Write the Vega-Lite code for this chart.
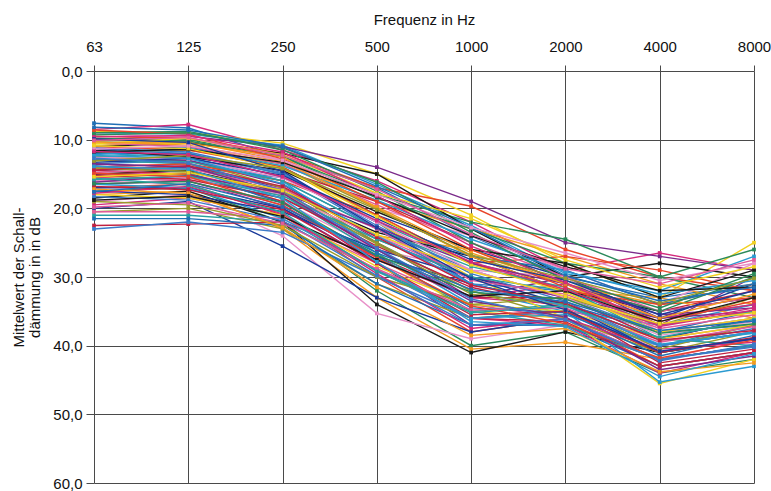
{
  "$schema": "https://vega.github.io/schema/vega-lite/v6.json",
  "width": 660,
  "height": 412,
  "autosize": "none",
  "padding": {"left": 94, "top": 71, "right": 17, "bottom": 8},
  "background": "white",
  "config": {
    "font": "Liberation Sans",
    "view": {"stroke": null},
    "axis": {"labelFontSize": 15, "titleFontSize": 15, "titleFontWeight": "normal", "labelColor": "#111", "titleColor": "#111", "gridColor": "#4a4a4a", "gridOpacity": 1, "gridWidth": 1, "tickColor": "#4a4a4a", "domain": false}
  },
  "data": {"values": [
{"s":1,"f":63,"v":7.6},{"s":1,"f":125,"v":8.3},{"s":1,"f":250,"v":12.5},{"s":1,"f":500,"v":17},{"s":1,"f":1000,"v":24},{"s":1,"f":2000,"v":30},{"s":1,"f":4000,"v":33},{"s":1,"f":8000,"v":31},
{"s":2,"f":63,"v":8.5},{"s":2,"f":125,"v":7.8},{"s":2,"f":250,"v":11.5},{"s":2,"f":500,"v":16},{"s":2,"f":1000,"v":22},{"s":2,"f":2000,"v":29},{"s":2,"f":4000,"v":26.5},{"s":2,"f":8000,"v":29},
{"s":3,"f":63,"v":8.8},{"s":3,"f":125,"v":9},{"s":3,"f":250,"v":10.5},{"s":3,"f":500,"v":15},{"s":3,"f":1000,"v":21},{"s":3,"f":2000,"v":28},{"s":3,"f":4000,"v":33},{"s":3,"f":8000,"v":25},
{"s":4,"f":63,"v":9},{"s":4,"f":125,"v":9.2},{"s":4,"f":250,"v":10.8},{"s":4,"f":500,"v":16.5},{"s":4,"f":1000,"v":22.5},{"s":4,"f":2000,"v":29.5},{"s":4,"f":4000,"v":32},{"s":4,"f":8000,"v":27},
{"s":5,"f":63,"v":10},{"s":5,"f":125,"v":9.5},{"s":5,"f":250,"v":11},{"s":5,"f":500,"v":14},{"s":5,"f":1000,"v":19},{"s":5,"f":2000,"v":25},{"s":5,"f":4000,"v":27},{"s":5,"f":8000,"v":29},
{"s":6,"f":63,"v":9.5},{"s":6,"f":125,"v":9.8},{"s":6,"f":250,"v":12},{"s":6,"f":500,"v":17},{"s":6,"f":1000,"v":19.7},{"s":6,"f":2000,"v":26},{"s":6,"f":4000,"v":30},{"s":6,"f":8000,"v":32},
{"s":7,"f":63,"v":10.2},{"s":7,"f":125,"v":10},{"s":7,"f":250,"v":12.5},{"s":7,"f":500,"v":18},{"s":7,"f":1000,"v":22},{"s":7,"f":2000,"v":24.5},{"s":7,"f":4000,"v":30},{"s":7,"f":8000,"v":33},
{"s":8,"f":63,"v":10.5},{"s":8,"f":125,"v":10.3},{"s":8,"f":250,"v":13},{"s":8,"f":500,"v":19},{"s":8,"f":1000,"v":23},{"s":8,"f":2000,"v":27},{"s":8,"f":4000,"v":31},{"s":8,"f":8000,"v":34},
{"s":9,"f":63,"v":11},{"s":9,"f":125,"v":10.5},{"s":9,"f":250,"v":12},{"s":9,"f":500,"v":15},{"s":9,"f":1000,"v":23},{"s":9,"f":2000,"v":30},{"s":9,"f":4000,"v":28},{"s":9,"f":8000,"v":30},
{"s":10,"f":63,"v":9.2},{"s":10,"f":125,"v":9.6},{"s":10,"f":250,"v":13},{"s":10,"f":500,"v":20},{"s":10,"f":1000,"v":24},{"s":10,"f":2000,"v":29},{"s":10,"f":4000,"v":34},{"s":10,"f":8000,"v":28},
{"s":11,"f":63,"v":11.5},{"s":11,"f":125,"v":11},{"s":11,"f":250,"v":14},{"s":11,"f":500,"v":21},{"s":11,"f":1000,"v":26},{"s":11,"f":2000,"v":30},{"s":11,"f":4000,"v":36},{"s":11,"f":8000,"v":31},
{"s":12,"f":63,"v":12},{"s":12,"f":125,"v":11.5},{"s":12,"f":250,"v":13.5},{"s":12,"f":500,"v":20},{"s":12,"f":1000,"v":27},{"s":12,"f":2000,"v":31},{"s":12,"f":4000,"v":37},{"s":12,"f":8000,"v":33},
{"s":13,"f":63,"v":12.5},{"s":13,"f":125,"v":12},{"s":13,"f":250,"v":15},{"s":13,"f":500,"v":22},{"s":13,"f":1000,"v":28},{"s":13,"f":2000,"v":32},{"s":13,"f":4000,"v":36},{"s":13,"f":8000,"v":34},
{"s":14,"f":63,"v":13},{"s":14,"f":125,"v":12.5},{"s":14,"f":250,"v":14.5},{"s":14,"f":500,"v":19},{"s":14,"f":1000,"v":25},{"s":14,"f":2000,"v":31},{"s":14,"f":4000,"v":35},{"s":14,"f":8000,"v":32},
{"s":15,"f":63,"v":13.5},{"s":15,"f":125,"v":13},{"s":15,"f":250,"v":16},{"s":15,"f":500,"v":23},{"s":15,"f":1000,"v":29},{"s":15,"f":2000,"v":33},{"s":15,"f":4000,"v":38},{"s":15,"f":8000,"v":36},
{"s":16,"f":63,"v":14},{"s":16,"f":125,"v":13.5},{"s":16,"f":250,"v":17},{"s":16,"f":500,"v":24},{"s":16,"f":1000,"v":30},{"s":16,"f":2000,"v":33},{"s":16,"f":4000,"v":39},{"s":16,"f":8000,"v":37},
{"s":17,"f":63,"v":14.5},{"s":17,"f":125,"v":14},{"s":17,"f":250,"v":15.5},{"s":17,"f":500,"v":22},{"s":17,"f":1000,"v":31},{"s":17,"f":2000,"v":34},{"s":17,"f":4000,"v":38},{"s":17,"f":8000,"v":35},
{"s":18,"f":63,"v":15},{"s":18,"f":125,"v":15},{"s":18,"f":250,"v":18},{"s":18,"f":500,"v":26},{"s":18,"f":1000,"v":33},{"s":18,"f":2000,"v":34},{"s":18,"f":4000,"v":40},{"s":18,"f":8000,"v":38},
{"s":19,"f":63,"v":15.5},{"s":19,"f":125,"v":15},{"s":19,"f":250,"v":19},{"s":19,"f":500,"v":27},{"s":19,"f":1000,"v":35},{"s":19,"f":2000,"v":36},{"s":19,"f":4000,"v":41},{"s":19,"f":8000,"v":39},
{"s":20,"f":63,"v":16},{"s":20,"f":125,"v":15.5},{"s":20,"f":250,"v":18.5},{"s":20,"f":500,"v":25},{"s":20,"f":1000,"v":32},{"s":20,"f":2000,"v":35},{"s":20,"f":4000,"v":37},{"s":20,"f":8000,"v":34},
{"s":21,"f":63,"v":16.5},{"s":21,"f":125,"v":16},{"s":21,"f":250,"v":20},{"s":21,"f":500,"v":28},{"s":21,"f":1000,"v":37},{"s":21,"f":2000,"v":37},{"s":21,"f":4000,"v":42},{"s":21,"f":8000,"v":40},
{"s":22,"f":63,"v":17},{"s":22,"f":125,"v":16.5},{"s":22,"f":250,"v":21},{"s":22,"f":500,"v":30},{"s":22,"f":1000,"v":38},{"s":22,"f":2000,"v":36},{"s":22,"f":4000,"v":43},{"s":22,"f":8000,"v":41},
{"s":23,"f":63,"v":17.5},{"s":23,"f":125,"v":17},{"s":23,"f":250,"v":22},{"s":23,"f":500,"v":32},{"s":23,"f":1000,"v":40},{"s":23,"f":2000,"v":38},{"s":23,"f":4000,"v":44},{"s":23,"f":8000,"v":42},
{"s":24,"f":63,"v":18},{"s":24,"f":125,"v":17.5},{"s":24,"f":250,"v":23},{"s":24,"f":500,"v":33},{"s":24,"f":1000,"v":40.5},{"s":24,"f":2000,"v":39.5},{"s":24,"f":4000,"v":42},{"s":24,"f":8000,"v":40},
{"s":25,"f":63,"v":18.5},{"s":25,"f":125,"v":17.5},{"s":25,"f":250,"v":22},{"s":25,"f":500,"v":34},{"s":25,"f":1000,"v":41},{"s":25,"f":2000,"v":38},{"s":25,"f":4000,"v":41},{"s":25,"f":8000,"v":39},
{"s":26,"f":63,"v":19},{"s":26,"f":125,"v":18},{"s":26,"f":250,"v":24},{"s":26,"f":500,"v":35.3},{"s":26,"f":1000,"v":39},{"s":26,"f":2000,"v":37},{"s":26,"f":4000,"v":40},{"s":26,"f":8000,"v":38},
{"s":27,"f":63,"v":20},{"s":27,"f":125,"v":19},{"s":27,"f":250,"v":25.5},{"s":27,"f":500,"v":33},{"s":27,"f":1000,"v":38},{"s":27,"f":2000,"v":36},{"s":27,"f":4000,"v":42},{"s":27,"f":8000,"v":40},
{"s":28,"f":63,"v":20.5},{"s":28,"f":125,"v":20},{"s":28,"f":250,"v":23},{"s":28,"f":500,"v":31},{"s":28,"f":1000,"v":36},{"s":28,"f":2000,"v":35},{"s":28,"f":4000,"v":41},{"s":28,"f":8000,"v":39},
{"s":29,"f":63,"v":21},{"s":29,"f":125,"v":21},{"s":29,"f":250,"v":22},{"s":29,"f":500,"v":29},{"s":29,"f":1000,"v":35},{"s":29,"f":2000,"v":34},{"s":29,"f":4000,"v":40},{"s":29,"f":8000,"v":37},
{"s":30,"f":63,"v":22.5},{"s":30,"f":125,"v":22.3},{"s":30,"f":250,"v":22},{"s":30,"f":500,"v":27},{"s":30,"f":1000,"v":33},{"s":30,"f":2000,"v":33},{"s":30,"f":4000,"v":39},{"s":30,"f":8000,"v":36},
{"s":31,"f":63,"v":23},{"s":31,"f":125,"v":22},{"s":31,"f":250,"v":23.5},{"s":31,"f":500,"v":30},{"s":31,"f":1000,"v":36},{"s":31,"f":2000,"v":35},{"s":31,"f":4000,"v":40},{"s":31,"f":8000,"v":38},
{"s":32,"f":63,"v":20.5},{"s":32,"f":125,"v":20.5},{"s":32,"f":250,"v":21.5},{"s":32,"f":500,"v":28},{"s":32,"f":1000,"v":34},{"s":32,"f":2000,"v":36},{"s":32,"f":4000,"v":42},{"s":32,"f":8000,"v":39},
{"s":33,"f":63,"v":21.5},{"s":33,"f":125,"v":21.5},{"s":33,"f":250,"v":22.5},{"s":33,"f":500,"v":31},{"s":33,"f":1000,"v":37},{"s":33,"f":2000,"v":37},{"s":33,"f":4000,"v":43},{"s":33,"f":8000,"v":41},
{"s":34,"f":63,"v":19.5},{"s":34,"f":125,"v":18.5},{"s":34,"f":250,"v":21},{"s":34,"f":500,"v":29},{"s":34,"f":1000,"v":36},{"s":34,"f":2000,"v":37},{"s":34,"f":4000,"v":44},{"s":34,"f":8000,"v":41},
{"s":35,"f":63,"v":10.8},{"s":35,"f":125,"v":10.5},{"s":35,"f":250,"v":14},{"s":35,"f":500,"v":22},{"s":35,"f":1000,"v":30},{"s":35,"f":2000,"v":36},{"s":35,"f":4000,"v":45.5},{"s":35,"f":8000,"v":42},
{"s":36,"f":63,"v":12},{"s":36,"f":125,"v":12.5},{"s":36,"f":250,"v":16},{"s":36,"f":500,"v":26},{"s":36,"f":1000,"v":34},{"s":36,"f":2000,"v":35},{"s":36,"f":4000,"v":45.3},{"s":36,"f":8000,"v":43},
{"s":37,"f":63,"v":13.5},{"s":37,"f":125,"v":14},{"s":37,"f":250,"v":17},{"s":37,"f":500,"v":25},{"s":37,"f":1000,"v":33},{"s":37,"f":2000,"v":30},{"s":37,"f":4000,"v":37},{"s":37,"f":8000,"v":30},
{"s":38,"f":63,"v":11},{"s":38,"f":125,"v":11.5},{"s":38,"f":250,"v":14},{"s":38,"f":500,"v":21},{"s":38,"f":1000,"v":28},{"s":38,"f":2000,"v":27},{"s":38,"f":4000,"v":29},{"s":38,"f":8000,"v":32},
{"s":39,"f":63,"v":9.8},{"s":39,"f":125,"v":10.2},{"s":39,"f":250,"v":12.5},{"s":39,"f":500,"v":18.5},{"s":39,"f":1000,"v":23},{"s":39,"f":2000,"v":28},{"s":39,"f":4000,"v":30},{"s":39,"f":8000,"v":26},
{"s":40,"f":63,"v":14},{"s":40,"f":125,"v":14.5},{"s":40,"f":250,"v":18},{"s":40,"f":500,"v":24},{"s":40,"f":1000,"v":26},{"s":40,"f":2000,"v":31},{"s":40,"f":4000,"v":34},{"s":40,"f":8000,"v":31},
{"s":41,"f":63,"v":15},{"s":41,"f":125,"v":14.5},{"s":41,"f":250,"v":17.5},{"s":41,"f":500,"v":23.5},{"s":41,"f":1000,"v":27},{"s":41,"f":2000,"v":32},{"s":41,"f":4000,"v":35},{"s":41,"f":8000,"v":33},
{"s":42,"f":63,"v":16},{"s":42,"f":125,"v":16.5},{"s":42,"f":250,"v":19},{"s":42,"f":500,"v":26},{"s":42,"f":1000,"v":29},{"s":42,"f":2000,"v":33},{"s":42,"f":4000,"v":37},{"s":42,"f":8000,"v":35},
{"s":43,"f":63,"v":17},{"s":43,"f":125,"v":17},{"s":43,"f":250,"v":20},{"s":43,"f":500,"v":27},{"s":43,"f":1000,"v":31},{"s":43,"f":2000,"v":34},{"s":43,"f":4000,"v":39},{"s":43,"f":8000,"v":36},
{"s":44,"f":63,"v":12.5},{"s":44,"f":125,"v":13},{"s":44,"f":250,"v":17},{"s":44,"f":500,"v":25},{"s":44,"f":1000,"v":32},{"s":44,"f":2000,"v":36},{"s":44,"f":4000,"v":41},{"s":44,"f":8000,"v":38},
{"s":45,"f":63,"v":13},{"s":45,"f":125,"v":13.5},{"s":45,"f":250,"v":18},{"s":45,"f":500,"v":26.5},{"s":45,"f":1000,"v":35},{"s":45,"f":2000,"v":37},{"s":45,"f":4000,"v":42},{"s":45,"f":8000,"v":40},
{"s":46,"f":63,"v":14.5},{"s":46,"f":125,"v":15},{"s":46,"f":250,"v":19},{"s":46,"f":500,"v":28},{"s":46,"f":1000,"v":36},{"s":46,"f":2000,"v":36.5},{"s":46,"f":4000,"v":43},{"s":46,"f":8000,"v":41},
{"s":47,"f":63,"v":11.5},{"s":47,"f":125,"v":12},{"s":47,"f":250,"v":15},{"s":47,"f":500,"v":23},{"s":47,"f":1000,"v":31},{"s":47,"f":2000,"v":32},{"s":47,"f":4000,"v":38},{"s":47,"f":8000,"v":37},
{"s":48,"f":63,"v":10.5},{"s":48,"f":125,"v":11},{"s":48,"f":250,"v":13.5},{"s":48,"f":500,"v":19.5},{"s":48,"f":1000,"v":25},{"s":48,"f":2000,"v":30},{"s":48,"f":4000,"v":35},{"s":48,"f":8000,"v":33},
{"s":49,"f":63,"v":12},{"s":49,"f":125,"v":12},{"s":49,"f":250,"v":15.5},{"s":49,"f":500,"v":22},{"s":49,"f":1000,"v":27},{"s":49,"f":2000,"v":29},{"s":49,"f":4000,"v":34},{"s":49,"f":8000,"v":31},
{"s":50,"f":63,"v":15.5},{"s":50,"f":125,"v":16},{"s":50,"f":250,"v":19.5},{"s":50,"f":500,"v":27.5},{"s":50,"f":1000,"v":33},{"s":50,"f":2000,"v":31},{"s":50,"f":4000,"v":36},{"s":50,"f":8000,"v":34},
{"s":51,"f":63,"v":18},{"s":51,"f":125,"v":18.5},{"s":51,"f":250,"v":21},{"s":51,"f":500,"v":28.5},{"s":51,"f":1000,"v":34},{"s":51,"f":2000,"v":35},{"s":51,"f":4000,"v":39},{"s":51,"f":8000,"v":37},
{"s":52,"f":63,"v":16.5},{"s":52,"f":125,"v":17},{"s":52,"f":250,"v":21.5},{"s":52,"f":500,"v":29},{"s":52,"f":1000,"v":36},{"s":52,"f":2000,"v":35.5},{"s":52,"f":4000,"v":40},{"s":52,"f":8000,"v":38},
{"s":53,"f":63,"v":13},{"s":53,"f":125,"v":13},{"s":53,"f":250,"v":16.5},{"s":53,"f":500,"v":24.5},{"s":53,"f":1000,"v":30},{"s":53,"f":2000,"v":33},{"s":53,"f":4000,"v":36},{"s":53,"f":8000,"v":35},
{"s":54,"f":63,"v":14},{"s":54,"f":125,"v":13.5},{"s":54,"f":250,"v":16},{"s":54,"f":500,"v":21},{"s":54,"f":1000,"v":28},{"s":54,"f":2000,"v":32},{"s":54,"f":4000,"v":34},{"s":54,"f":8000,"v":33},
{"s":55,"f":63,"v":9},{"s":55,"f":125,"v":8.8},{"s":55,"f":250,"v":11.5},{"s":55,"f":500,"v":17.5},{"s":55,"f":1000,"v":25},{"s":55,"f":2000,"v":31},{"s":55,"f":4000,"v":35},{"s":55,"f":8000,"v":30},
{"s":56,"f":63,"v":10},{"s":56,"f":125,"v":10.5},{"s":56,"f":250,"v":12.5},{"s":56,"f":500,"v":20},{"s":56,"f":1000,"v":27},{"s":56,"f":2000,"v":32},{"s":56,"f":4000,"v":33},{"s":56,"f":8000,"v":36},
{"s":57,"f":63,"v":11.5},{"s":57,"f":125,"v":12.5},{"s":57,"f":250,"v":14.5},{"s":57,"f":500,"v":20.5},{"s":57,"f":1000,"v":26},{"s":57,"f":2000,"v":28},{"s":57,"f":4000,"v":33},{"s":57,"f":8000,"v":29},
{"s":58,"f":63,"v":16},{"s":58,"f":125,"v":15.5},{"s":58,"f":250,"v":18},{"s":58,"f":500,"v":24},{"s":58,"f":1000,"v":29},{"s":58,"f":2000,"v":30},{"s":58,"f":4000,"v":38},{"s":58,"f":8000,"v":36},
{"s":59,"f":63,"v":17.5},{"s":59,"f":125,"v":18},{"s":59,"f":250,"v":20.5},{"s":59,"f":500,"v":26},{"s":59,"f":1000,"v":30},{"s":59,"f":2000,"v":34},{"s":59,"f":4000,"v":41},{"s":59,"f":8000,"v":39},
{"s":60,"f":63,"v":19},{"s":60,"f":125,"v":19.5},{"s":60,"f":250,"v":22.5},{"s":60,"f":500,"v":30},{"s":60,"f":1000,"v":34},{"s":60,"f":2000,"v":33},{"s":60,"f":4000,"v":37},{"s":60,"f":8000,"v":35},
{"s":61,"f":63,"v":12.8},{"s":61,"f":125,"v":13.2},{"s":61,"f":250,"v":16},{"s":61,"f":500,"v":23},{"s":61,"f":1000,"v":28.5},{"s":61,"f":2000,"v":31.5},{"s":61,"f":4000,"v":39},{"s":61,"f":8000,"v":40},
{"s":62,"f":63,"v":15.2},{"s":62,"f":125,"v":15.8},{"s":62,"f":250,"v":18.5},{"s":62,"f":500,"v":25.5},{"s":62,"f":1000,"v":31.5},{"s":62,"f":2000,"v":34.5},{"s":62,"f":4000,"v":42.5},{"s":62,"f":8000,"v":40.5},
{"s":63,"f":63,"v":11.2},{"s":63,"f":125,"v":11.8},{"s":63,"f":250,"v":14.8},{"s":63,"f":500,"v":22.5},{"s":63,"f":1000,"v":29.5},{"s":63,"f":2000,"v":33.5},{"s":63,"f":4000,"v":40},{"s":63,"f":8000,"v":37.5},
{"s":64,"f":63,"v":14.8},{"s":64,"f":125,"v":14.2},{"s":64,"f":250,"v":17.2},{"s":64,"f":500,"v":23},{"s":64,"f":1000,"v":30.5},{"s":64,"f":2000,"v":32.5},{"s":64,"f":4000,"v":37.5},{"s":64,"f":8000,"v":35.5},
{"s":65,"f":63,"v":13.8},{"s":65,"f":125,"v":14.8},{"s":65,"f":250,"v":19.2},{"s":65,"f":500,"v":27},{"s":65,"f":1000,"v":34.5},{"s":65,"f":2000,"v":35.2},{"s":65,"f":4000,"v":41.5},{"s":65,"f":8000,"v":38.5},
{"s":66,"f":63,"v":17.8},{"s":66,"f":125,"v":16.8},{"s":66,"f":250,"v":20.8},{"s":66,"f":500,"v":29.5},{"s":66,"f":1000,"v":37.5},{"s":66,"f":2000,"v":36},{"s":66,"f":4000,"v":40.5},{"s":66,"f":8000,"v":39.5},
{"s":67,"f":63,"v":10.6},{"s":67,"f":125,"v":9.8},{"s":67,"f":250,"v":12.2},{"s":67,"f":500,"v":17.8},{"s":67,"f":1000,"v":21.5},{"s":67,"f":2000,"v":27.5},{"s":67,"f":4000,"v":31.5},{"s":67,"f":8000,"v":28.5},
{"s":68,"f":63,"v":12.2},{"s":68,"f":125,"v":11.2},{"s":68,"f":250,"v":13.8},{"s":68,"f":500,"v":18.8},{"s":68,"f":1000,"v":24.5},{"s":68,"f":2000,"v":29.2},{"s":68,"f":4000,"v":32.5},{"s":68,"f":8000,"v":30.5},
{"s":69,"f":63,"v":16.2},{"s":69,"f":125,"v":15.2},{"s":69,"f":250,"v":17.8},{"s":69,"f":500,"v":22.8},{"s":69,"f":1000,"v":28},{"s":69,"f":2000,"v":31},{"s":69,"f":4000,"v":35.5},{"s":69,"f":8000,"v":34.5},
{"s":70,"f":63,"v":8.6},{"s":70,"f":125,"v":9.2},{"s":70,"f":250,"v":12.8},{"s":70,"f":500,"v":19},{"s":70,"f":1000,"v":26},{"s":70,"f":2000,"v":31.5},{"s":70,"f":4000,"v":36.5},{"s":70,"f":8000,"v":33.5},
{"s":71,"f":63,"v":9.3},{"s":71,"f":125,"v":9},{"s":71,"f":250,"v":11.2},{"s":71,"f":500,"v":16.2},{"s":71,"f":1000,"v":23.5},{"s":71,"f":2000,"v":30.5},{"s":71,"f":4000,"v":34.5},{"s":71,"f":8000,"v":29.5},
{"s":72,"f":63,"v":10.3},{"s":72,"f":125,"v":10.8},{"s":72,"f":250,"v":13.2},{"s":72,"f":500,"v":19.8},{"s":72,"f":1000,"v":26.5},{"s":72,"f":2000,"v":31},{"s":72,"f":4000,"v":36},{"s":72,"f":8000,"v":32.5},
{"s":73,"f":63,"v":11.8},{"s":73,"f":125,"v":11.4},{"s":73,"f":250,"v":13.3},{"s":73,"f":500,"v":18.3},{"s":73,"f":1000,"v":24},{"s":73,"f":2000,"v":28.5},{"s":73,"f":4000,"v":32},{"s":73,"f":8000,"v":31.5},
{"s":74,"f":63,"v":12.6},{"s":74,"f":125,"v":12.8},{"s":74,"f":250,"v":15.6},{"s":74,"f":500,"v":22},{"s":74,"f":1000,"v":29},{"s":74,"f":2000,"v":33},{"s":74,"f":4000,"v":38.5},{"s":74,"f":8000,"v":36.5},
{"s":75,"f":63,"v":13.3},{"s":75,"f":125,"v":12.7},{"s":75,"f":250,"v":15.2},{"s":75,"f":500,"v":21.5},{"s":75,"f":1000,"v":27.5},{"s":75,"f":2000,"v":30.5},{"s":75,"f":4000,"v":35.5},{"s":75,"f":8000,"v":32},
{"s":76,"f":63,"v":14.2},{"s":76,"f":125,"v":14.6},{"s":76,"f":250,"v":17.6},{"s":76,"f":500,"v":25.2},{"s":76,"f":1000,"v":32.5},{"s":76,"f":2000,"v":34},{"s":76,"f":4000,"v":40.5},{"s":76,"f":8000,"v":37},
{"s":77,"f":63,"v":15.8},{"s":77,"f":125,"v":15.3},{"s":77,"f":250,"v":18.2},{"s":77,"f":500,"v":24.5},{"s":77,"f":1000,"v":30},{"s":77,"f":2000,"v":32},{"s":77,"f":4000,"v":37},{"s":77,"f":8000,"v":35},
{"s":78,"f":63,"v":16.8},{"s":78,"f":125,"v":17.3},{"s":78,"f":250,"v":20.2},{"s":78,"f":500,"v":28},{"s":78,"f":1000,"v":35.5},{"s":78,"f":2000,"v":35},{"s":78,"f":4000,"v":41},{"s":78,"f":8000,"v":38.8},
{"s":79,"f":63,"v":18.3},{"s":79,"f":125,"v":18.8},{"s":79,"f":250,"v":21.8},{"s":79,"f":500,"v":29.8},{"s":79,"f":1000,"v":37},{"s":79,"f":2000,"v":36.2},{"s":79,"f":4000,"v":42},{"s":79,"f":8000,"v":40.2},
{"s":80,"f":63,"v":19.8},{"s":80,"f":125,"v":19.2},{"s":80,"f":250,"v":22.2},{"s":80,"f":500,"v":28.8},{"s":80,"f":1000,"v":34.8},{"s":80,"f":2000,"v":34.5},{"s":80,"f":4000,"v":39.5},{"s":80,"f":8000,"v":37.2},
{"s":81,"f":63,"v":8.2},{"s":81,"f":125,"v":8.6},{"s":81,"f":250,"v":11},{"s":81,"f":500,"v":16.8},{"s":81,"f":1000,"v":22.8},{"s":81,"f":2000,"v":29.8},{"s":81,"f":4000,"v":33.5},{"s":81,"f":8000,"v":31.5},
{"s":82,"f":63,"v":9.6},{"s":82,"f":125,"v":9.4},{"s":82,"f":250,"v":11.8},{"s":82,"f":500,"v":18.2},{"s":82,"f":1000,"v":25.5},{"s":82,"f":2000,"v":30.8},{"s":82,"f":4000,"v":37},{"s":82,"f":8000,"v":34.5},
{"s":83,"f":63,"v":10.9},{"s":83,"f":125,"v":11.3},{"s":83,"f":250,"v":14.2},{"s":83,"f":500,"v":21.2},{"s":83,"f":1000,"v":28.2},{"s":83,"f":2000,"v":32.2},{"s":83,"f":4000,"v":38},{"s":83,"f":8000,"v":36},
{"s":84,"f":63,"v":12.3},{"s":84,"f":125,"v":12.7},{"s":84,"f":250,"v":16.4},{"s":84,"f":500,"v":24},{"s":84,"f":1000,"v":31},{"s":84,"f":2000,"v":34.2},{"s":84,"f":4000,"v":39.8},{"s":84,"f":8000,"v":38.2},
{"s":85,"f":63,"v":13.6},{"s":85,"f":125,"v":13.9},{"s":85,"f":250,"v":17.8},{"s":85,"f":500,"v":26},{"s":85,"f":1000,"v":33.5},{"s":85,"f":2000,"v":35.8},{"s":85,"f":4000,"v":43.5},{"s":85,"f":8000,"v":41.5},
{"s":86,"f":63,"v":14.9},{"s":86,"f":125,"v":15.4},{"s":86,"f":250,"v":19.6},{"s":86,"f":500,"v":27.2},{"s":86,"f":1000,"v":34.2},{"s":86,"f":2000,"v":36.8},{"s":86,"f":4000,"v":41.8},{"s":86,"f":8000,"v":39.2},
{"s":87,"f":63,"v":16.4},{"s":87,"f":125,"v":16.1},{"s":87,"f":250,"v":19.2},{"s":87,"f":500,"v":26.8},{"s":87,"f":1000,"v":32.2},{"s":87,"f":2000,"v":33.2},{"s":87,"f":4000,"v":38.2},{"s":87,"f":8000,"v":36.8},
{"s":88,"f":63,"v":17.2},{"s":88,"f":125,"v":17.8},{"s":88,"f":250,"v":22.8},{"s":88,"f":500,"v":31.5},{"s":88,"f":1000,"v":38.5},{"s":88,"f":2000,"v":37.5},{"s":88,"f":4000,"v":43.8},{"s":88,"f":8000,"v":42.5},
{"s":89,"f":63,"v":18.8},{"s":89,"f":125,"v":18.2},{"s":89,"f":250,"v":21.2},{"s":89,"f":500,"v":27.5},{"s":89,"f":1000,"v":32.8},{"s":89,"f":2000,"v":32},{"s":89,"f":4000,"v":36.5},{"s":89,"f":8000,"v":33},
{"s":90,"f":63,"v":11.4},{"s":90,"f":125,"v":10.9},{"s":90,"f":250,"v":13},{"s":90,"f":500,"v":18},{"s":90,"f":1000,"v":22.8},{"s":90,"f":2000,"v":26.5},{"s":90,"f":4000,"v":30.5},{"s":90,"f":8000,"v":28},
{"s":91,"f":63,"v":9.9},{"s":91,"f":125,"v":10.4},{"s":91,"f":250,"v":14.6},{"s":91,"f":500,"v":22.8},{"s":91,"f":1000,"v":30.2},{"s":91,"f":2000,"v":34.8},{"s":91,"f":4000,"v":40.8},{"s":91,"f":8000,"v":39},
{"s":92,"f":63,"v":13.1},{"s":92,"f":125,"v":12.3},{"s":92,"f":250,"v":14.2},{"s":92,"f":500,"v":20.2},{"s":92,"f":1000,"v":26.8},{"s":92,"f":2000,"v":30.2},{"s":92,"f":4000,"v":33.8},{"s":92,"f":8000,"v":30.2},
{"s":93,"f":63,"v":15.6},{"s":93,"f":125,"v":16.6},{"s":93,"f":250,"v":20.6},{"s":93,"f":500,"v":29.2},{"s":93,"f":1000,"v":35.2},{"s":93,"f":2000,"v":34.2},{"s":93,"f":4000,"v":38.8},{"s":93,"f":8000,"v":36.2},
{"s":94,"f":63,"v":14.4},{"s":94,"f":125,"v":13.8},{"s":94,"f":250,"v":16.8},{"s":94,"f":500,"v":24.2},{"s":94,"f":1000,"v":31.2},{"s":94,"f":2000,"v":33.8},{"s":94,"f":4000,"v":39.2},{"s":94,"f":8000,"v":37.8},
{"s":95,"f":63,"v":12.7},{"s":95,"f":125,"v":13.4},{"s":95,"f":250,"v":17.4},{"s":95,"f":500,"v":25.8},{"s":95,"f":1000,"v":33.2},{"s":95,"f":2000,"v":36.2},{"s":95,"f":4000,"v":42.2},{"s":95,"f":8000,"v":39.8},
{"s":96,"f":63,"v":10.1},{"s":96,"f":125,"v":9.7},{"s":96,"f":250,"v":12.3},{"s":96,"f":500,"v":17.2},{"s":96,"f":1000,"v":23.8},{"s":96,"f":2000,"v":28.8},{"s":96,"f":4000,"v":31},{"s":96,"f":8000,"v":27.5},
{"s":97,"f":63,"v":17.6},{"s":97,"f":125,"v":16.4},{"s":97,"f":250,"v":19.8},{"s":97,"f":500,"v":26.5},{"s":97,"f":1000,"v":31.8},{"s":97,"f":2000,"v":33.6},{"s":97,"f":4000,"v":37.8},{"s":97,"f":8000,"v":36.4},
{"s":98,"f":63,"v":11.7},{"s":98,"f":125,"v":12.2},{"s":98,"f":250,"v":15.4},{"s":98,"f":500,"v":21.8},{"s":98,"f":1000,"v":27.8},{"s":98,"f":2000,"v":31.8},{"s":98,"f":4000,"v":37.2},{"s":98,"f":8000,"v":34.8},
{"s":99,"f":63,"v":15.4},{"s":99,"f":125,"v":14.8},{"s":99,"f":250,"v":17.4},{"s":99,"f":500,"v":23.8},{"s":99,"f":1000,"v":29.2},{"s":99,"f":2000,"v":32.8},{"s":99,"f":4000,"v":36.8},{"s":99,"f":8000,"v":35.2},
{"s":100,"f":63,"v":13.9},{"s":100,"f":125,"v":14.3},{"s":100,"f":250,"v":18.6},{"s":100,"f":500,"v":27.8},{"s":100,"f":1000,"v":36.5},{"s":100,"f":2000,"v":37.2},{"s":100,"f":4000,"v":44.5},{"s":100,"f":8000,"v":41.2}
  ]},
  "mark": {"type": "line", "strokeWidth": 1.4, "point": {"shape": "square", "size": 14, "filled": true}},
  "encoding": {
    "x": {"field": "f", "type": "ordinal", "scale": {"type": "point", "padding": 0},
      "axis": {"orient": "top", "title": "Frequenz in Hz", "labelAngle": 0, "tickSize": 6, "labelPadding": 11, "titlePadding": 12, "grid": true}},
    "y": {"field": "v", "type": "quantitative", "scale": {"domain": [0, 60], "reverse": true, "nice": false},
      "axis": {"title": ["Mittelwert der Schall-", "dämmung in in dB"], "values": [0, 10, 20, 30, 40, 50, 60], "labelExpr": "replace(format(datum.value, '.1f'), '.', ',')", "tickSize": 8, "labelPadding": 4, "titlePadding": 10, "grid": true, "titleLineHeight": 16}},
    "color": {"field": "s", "type": "nominal", "legend": null,
      "scale": {"range": ["#1f6fb5", "#d42a7c", "#f0d020", "#2a9ad0", "#7a2a8a", "#e8452a", "#2a8a5a", "#f39a20", "#1a1a1a", "#e890c8", "#1a3a9a", "#9a9a2a", "#2aa0a0", "#c02040", "#3a7ac8", "#e05a9a"]}}
  }
}
